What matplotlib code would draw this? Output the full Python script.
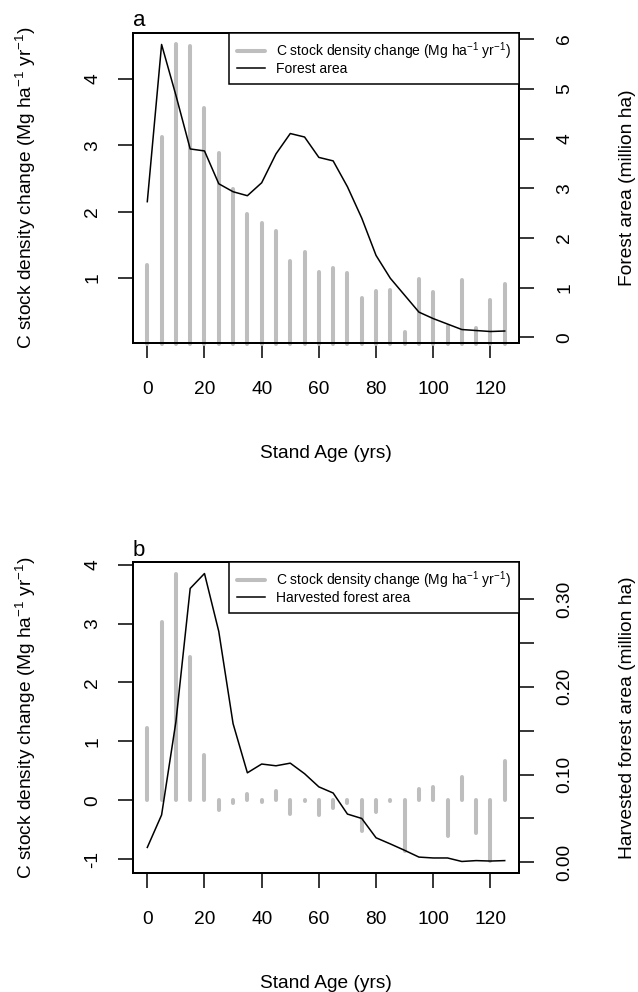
import numpy as np
import matplotlib
matplotlib.use("Agg")
import matplotlib.pyplot as plt
from matplotlib.lines import Line2D

plt.rcParams['font.family'] = ['Liberation Sans', 'DejaVu Sans']
plt.rcParams['mathtext.fontset'] = 'custom'
plt.rcParams['mathtext.rm'] = 'Liberation Sans'
plt.rcParams['mathtext.it'] = 'Liberation Sans:italic'
plt.rcParams['mathtext.bf'] = 'Liberation Sans:bold'
plt.rcParams['axes.unicode_minus'] = False

# ---------------- data ----------------
stand_age = [0, 5, 10, 15, 20, 25, 30, 35, 40, 45, 50, 55, 60, 65, 70, 75, 80,
             85, 90, 95, 100, 105, 110, 115, 120, 125]

c_change_a = [1.20, 3.13, 4.52, 4.50, 3.56, 2.89, 2.34, 1.97, 1.82, 1.71, 1.25,
              1.39, 1.09, 1.15, 1.08, 0.69, 0.80, 0.82, 0.19, 0.98, 0.79, 0.27,
              0.96, 0.24, 0.66, 0.91]

forest_area = [2.73, 5.89, 4.87, 3.79, 3.75, 3.09, 2.93, 2.85, 3.11, 3.69, 4.10,
               4.03, 3.62, 3.55, 3.03, 2.40, 1.65, 1.19, 0.85, 0.51, 0.38, 0.27,
               0.16, 0.14, 0.12, 0.13]

c_change_b = [1.22, 3.03, 3.85, 2.44, 0.76, -0.16, -0.05, 0.10, -0.03, 0.15,
              -0.23, -0.01, -0.25, -0.14, -0.04, -0.53, -0.20, -0.01, -0.87,
              0.19, 0.22, -0.60, 0.39, -0.56, -1.04, 0.67]

harvested_area = [0.017, 0.054, 0.160, 0.312, 0.329, 0.263, 0.158, 0.102, 0.112,
                  0.110, 0.113, 0.101, 0.086, 0.079, 0.055, 0.050, 0.028, 0.021,
                  0.0137, 0.006, 0.005, 0.005, 0.001, 0.002, 0.0015, 0.002]

xticks = [0, 20, 40, 60, 80, 100, 120]
yticks_a_left = [1, 2, 3, 4]
yticks_a_right = [0, 1, 2, 3, 4, 5, 6]
yticks_b_left = [-1, 0, 1, 2, 3, 4]
yticks_b_right = [0.00, 0.05, 0.10, 0.15, 0.20, 0.25, 0.30]
ylabels_b_right = ["0.00", "", "0.10", "", "0.20", "", "0.30"]

c_label = r"C stock density change (Mg ha$^{-1}$ yr$^{-1}$)"

# ---------------- style ----------------
W, H = 638, 992
DPI = 100
BAR_COLOR = "#BEBEBE"
FS = 13.8
LEG_FS = 10.0


def rlim(vals):
    lo, hi = min(vals), max(vals)
    pad = 0.04 * (hi - lo)
    return lo - pad, hi + pad


def style_axis(ax):
    for s in ax.spines.values():
        s.set_linewidth(1.4)
    ax.tick_params(axis='both', length=10.8, width=1.1, labelsize=FS,
                   direction='out')


fig = plt.figure(figsize=(W / DPI, H / DPI), dpi=DPI)


def panel(box, c_vals, line_vals, line_label, yt_left, yt_right, yl_right,
          right_label, letter, letter_base):
    left, top, right, bottom = box
    ax = fig.add_axes([left / W, 1 - bottom / H, (right - left) / W,
                       (bottom - top) / H])
    bars = ax.vlines(stand_age, 0, c_vals, colors=BAR_COLOR, linewidth=2.9,
                     clip_on=False)
    bars.set_capstyle('round')
    ax.set_xlim(rlim(stand_age))
    ax.set_ylim(rlim(c_vals))
    ax.set_xticks(xticks)
    ax.set_xticklabels([str(v) for v in xticks])
    ax.set_yticks(yt_left)
    ax.set_yticklabels([str(v) for v in yt_left])
    style_axis(ax)
    ax.tick_params(axis='x', pad=16.5)
    ax.tick_params(axis='y', pad=12, labelrotation=90)
    for lab in ax.get_yticklabels():
        lab.set_va('center')

    ax2 = ax.twinx()
    ax2.plot(stand_age, line_vals, color='black', linewidth=1.1)
    ax2.set_ylim(rlim(line_vals))
    ax2.set_yticks(yt_right)
    ax2.set_yticklabels(yl_right)
    style_axis(ax2)
    ax2.tick_params(axis='y', pad=16, labelrotation=90)
    for lab in ax2.get_yticklabels():
        lab.set_va('center')

    handles = [Line2D([], [], color=BAR_COLOR, linewidth=2.9,
                      solid_capstyle='round'),
               Line2D([], [], color='black', linewidth=1.1)]
    leg = ax2.legend(handles, [c_label, line_label], loc='upper right',
                     borderaxespad=0, fontsize=LEG_FS, fancybox=False,
                     framealpha=1, edgecolor='black', borderpad=0.55,
                     labelspacing=0.0, handlelength=2.05, handletextpad=0.8)
    leg.get_frame().set_linewidth(1.1)

    cy = 1 - (top + bottom) / 2 / H
    cx = (left + right) / 2 / W
    fig.text(26 / W, cy, c_label, rotation=90, ha='center', va='center',
             fontsize=FS)
    fig.text(628 / W, cy, right_label, rotation=90, ha='center', va='center',
             fontsize=FS)
    fig.text(cx, 1 - (bottom + 115) / H, "Stand Age (yrs)", ha='center',
             va='baseline', fontsize=FS)
    fig.text(left / W, 1 - letter_base / H, letter, ha='left', va='baseline',
             fontsize=16)
    return ax, ax2


panel((133, 33, 519, 343), c_change_a, forest_area, "Forest area",
      yticks_a_left, yticks_a_right, [str(v) for v in yticks_a_right],
      "Forest area (million ha)", "a", 26)

panel((133, 562, 519, 873), c_change_b, harvested_area, "Harvested forest area",
      yticks_b_left, yticks_b_right, ylabels_b_right,
      "Harvested forest area (million ha)", "b", 555.7)

fig.savefig("out.png", dpi=DPI)
